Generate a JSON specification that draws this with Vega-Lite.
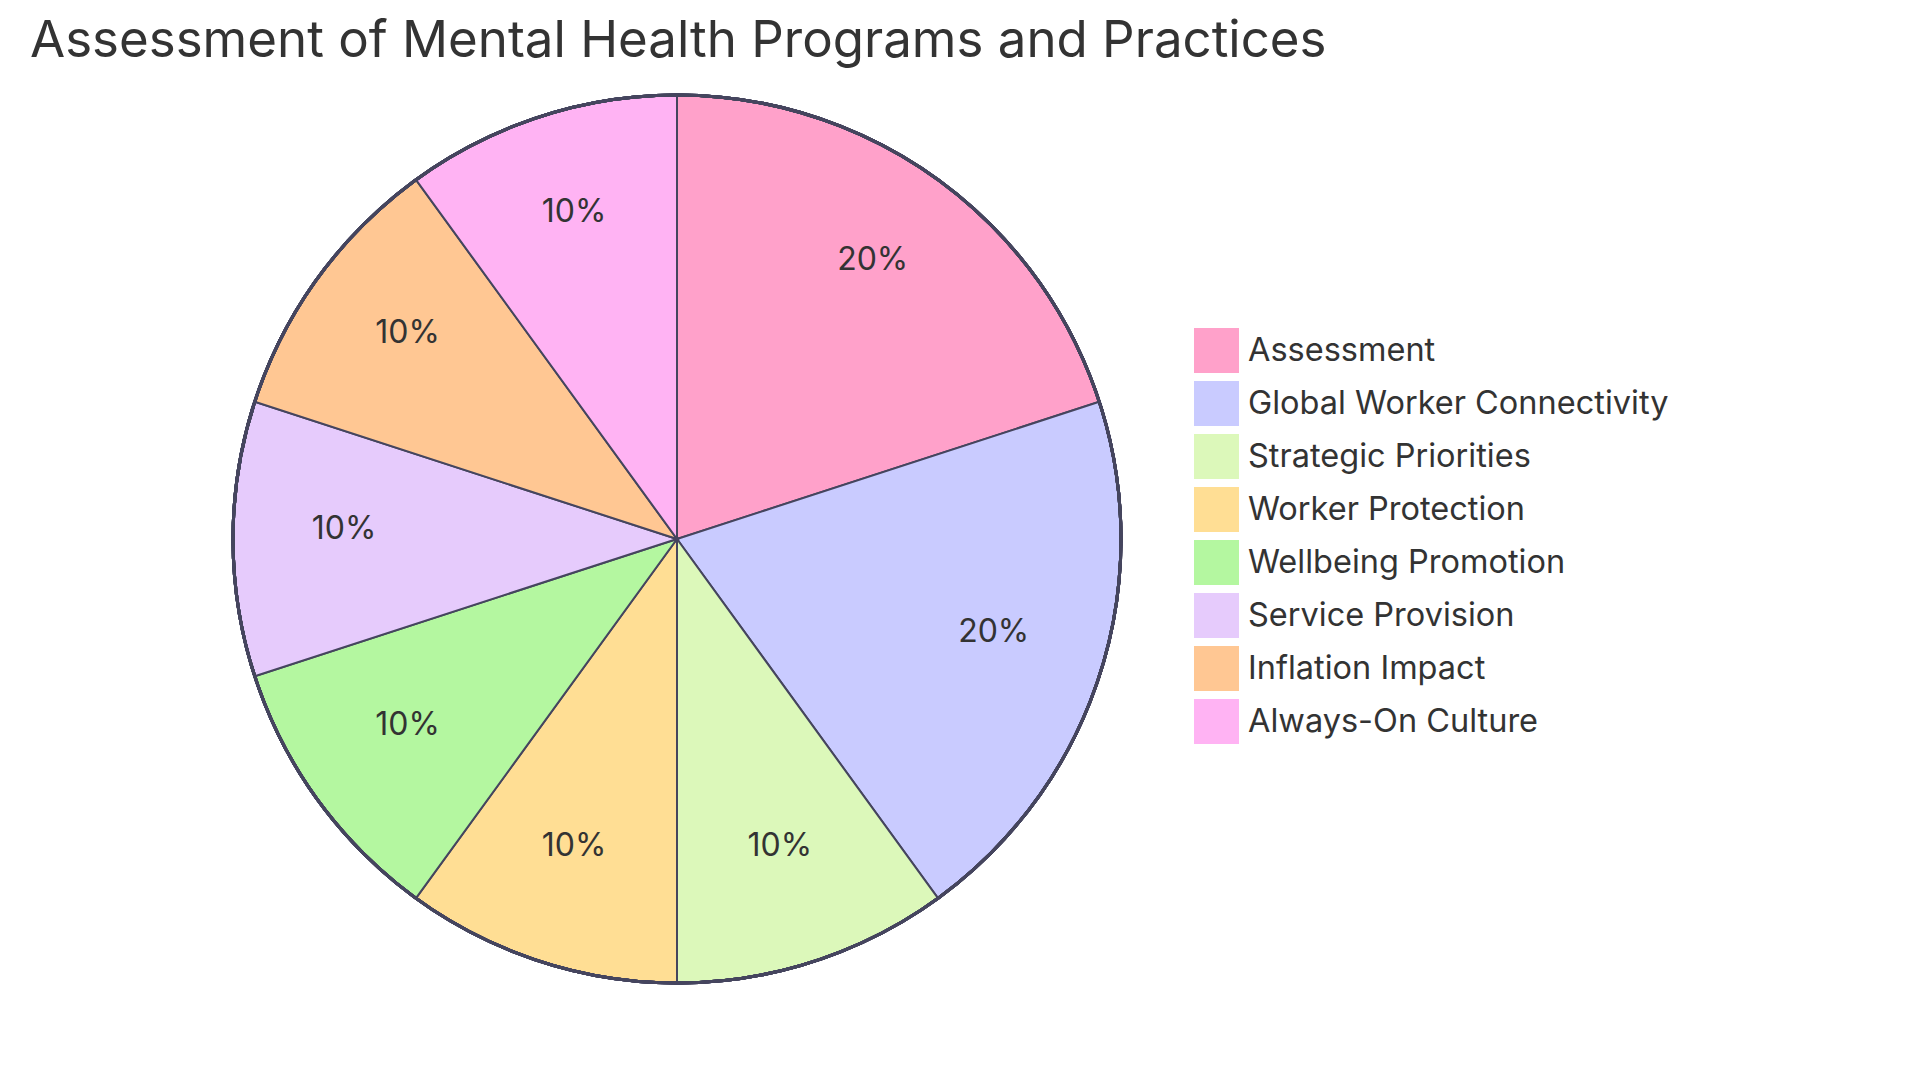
{
  "$schema": "https://vega.github.io/schema/vega-lite/v6.json",
  "width": 1294,
  "height": 942,
  "padding": {"left": 30, "top": 16, "right": 0, "bottom": 0},
  "background": "white",
  "title": {
    "text": "Assessment of Mental Health Programs and Practices",
    "anchor": "start",
    "fontSize": 51,
    "fontWeight": "normal",
    "color": "#333333",
    "offset": 0,
    "font": "Inter"
  },
  "config": {
    "font": "Inter",
    "view": {"stroke": null}
  },
  "data": {
    "values": [
      {"idx": 1, "category": "Assessment", "share": 0.2},
      {"idx": 2, "category": "Global Worker Connectivity", "share": 0.2},
      {"idx": 3, "category": "Strategic Priorities", "share": 0.1},
      {"idx": 4, "category": "Worker Protection", "share": 0.1},
      {"idx": 5, "category": "Wellbeing Promotion", "share": 0.1},
      {"idx": 6, "category": "Service Provision", "share": 0.1},
      {"idx": 7, "category": "Inflation Impact", "share": 0.1},
      {"idx": 8, "category": "Always-On Culture", "share": 0.1}
    ]
  },
  "encoding": {
    "theta": {"field": "share", "type": "quantitative", "stack": true},
    "order": {"field": "idx", "type": "quantitative"}
  },
  "layer": [
    {
      "mark": {"type": "arc", "radius": 444, "stroke": "#45455e", "strokeWidth": 2},
      "encoding": {
        "color": {
          "field": "category",
          "type": "nominal",
          "scale": {
            "domain": ["Assessment", "Global Worker Connectivity", "Strategic Priorities", "Worker Protection", "Wellbeing Promotion", "Service Provision", "Inflation Impact", "Always-On Culture"],
            "range": ["#FFA1CA", "#C9CBFF", "#DCF8BA", "#FFDE94", "#B4F7A0", "#E6CBFC", "#FFC793", "#FFB3F3"]
          },
          "legend": {
            "title": null,
            "orient": "none",
            "legendX": 1164,
            "legendY": 260,
            "symbolType": "square",
            "symbolSize": 2025,
            "symbolStrokeWidth": 0,
            "labelFontSize": 32.5,
            "labelColor": "#333333",
            "labelOffset": 9,
            "rowPadding": 8,
            "labelLimit": 600
          }
        }
      }
    },
    {
      "mark": {"type": "arc", "radius": 444, "fill": null, "filled": false, "stroke": "#45455e", "strokeWidth": 3, "theta": 0, "theta2": 6.2832},
      "encoding": {"theta": null, "order": null}
    },
    {
      "mark": {"type": "text", "radius": 333, "fontSize": 32, "color": "#333333", "dy": -10},
      "encoding": {
        "text": {"field": "share", "type": "quantitative", "format": ".0%"}
      }
    }
  ]
}
